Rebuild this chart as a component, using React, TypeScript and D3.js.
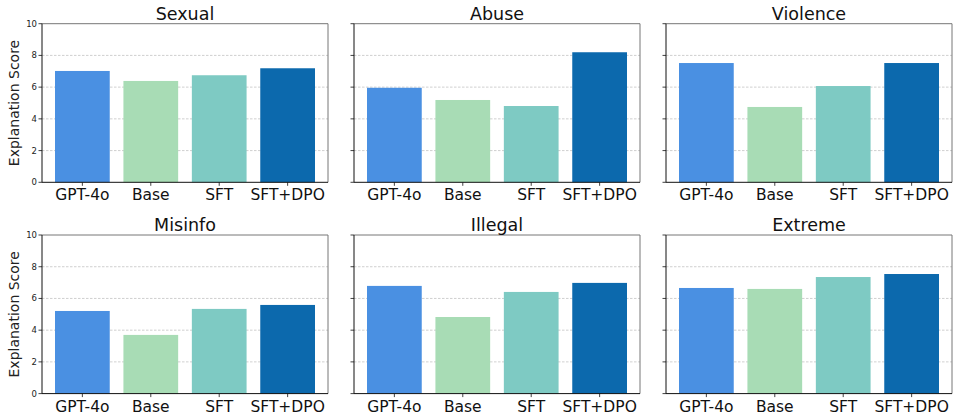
import React from "react";
import * as d3 from "d3";

const models = ["GPT-4o", "Base", "SFT", "SFT+DPO"];
const colors = ["#4A90E2", "#A8DCB5", "#7ECAC3", "#0C69AD"];
const categories = ["Sexual", "Abuse", "Violence", "Misinfo", "Illegal", "Extreme"];
const sexual = [7.02, 6.39, 6.75, 7.19];
const abuse = [5.96, 5.19, 4.81, 8.2];
const violence = [7.52, 4.75, 6.07, 7.52];
const misinfo = [5.21, 3.7, 5.34, 5.59];
const illegal = [6.79, 4.83, 6.41, 6.98];
const extreme = [6.66, 6.6, 7.35, 7.54];
const seriesValues = [sexual, abuse, violence, misinfo, illegal, extreme];
const yTicks = [0, 2, 4, 6, 8, 10];
const gridTicks = [2, 4, 6, 8];
const yLabel = "Explanation Score";

const W = 953;
const H = 416;
const panelLefts = [42, 354, 666];
const panelW = 286;
const rowTops = [23.7, 235];
const panelH = 158.6;

function Panel({ idx }: { idx: number }) {
  const col = idx % 3;
  const row = Math.floor(idx / 3);
  const x0 = panelLefts[col];
  const y0 = rowTops[row];
  const x = d3.scaleLinear().domain([-0.59, 3.59]).range([0, panelW]);
  const y = d3.scaleLinear().domain([0, 10]).range([panelH, 0]);
  const vals = seriesValues[idx];
  const dark = "#111";
  const light = "#777";
  return (
    <g transform={`translate(${x0},${y0})`}>
      {gridTicks.map((t) => (
        <line key={t} x1={0} x2={panelW} y1={y(t)} y2={y(t)} stroke="#c4c4c4" strokeWidth={0.8} strokeDasharray="2.5,1.5" />
      ))}
      {vals.map((v, i) => (
        <rect key={i} x={x(i - 0.4)} y={y(v)} width={x(i + 0.4) - x(i - 0.4)} height={y(0) - y(v)} fill={colors[i]} />
      ))}
      <line x1={0} x2={panelW} y1={0} y2={0} stroke={light} strokeWidth={1} />
      <line x1={panelW} x2={panelW} y1={0} y2={panelH} stroke={light} strokeWidth={1} />
      <line x1={0} x2={0} y1={0} y2={panelH} stroke={dark} strokeWidth={1} />
      <line x1={0} x2={panelW} y1={panelH} y2={panelH} stroke={dark} strokeWidth={1} />
      {yTicks.map((t) => (
        <g key={t}>
          <line x1={-3.5} x2={0} y1={y(t)} y2={y(t)} stroke={dark} strokeWidth={0.8} />
          {col === 0 && (
            <text x={-5} y={y(t)} dy="0.35em" textAnchor="end" fontSize={8.5} fill="#222" fontFamily="DejaVu Sans">
              {t}
            </text>
          )}
        </g>
      ))}
      {models.map((m, i) => (
        <g key={m}>
          <line x1={x(i)} x2={x(i)} y1={panelH} y2={panelH + 3.5} stroke={dark} strokeWidth={0.8} />
          <text x={x(i)} y={panelH + 18} textAnchor="middle" fontSize={15.5} fill="#111" fontFamily="DejaVu Sans">
            {m}
          </text>
        </g>
      ))}
      <text x={panelW / 2} y={-4} textAnchor="middle" fontSize={17.5} fill="#111" fontFamily="DejaVu Sans">
        {categories[idx]}
      </text>
      {col === 0 && (
        <text
          transform={`translate(${-23},${panelH / 2}) rotate(-90)`}
          textAnchor="middle"
          fontSize={14}
          fill="#222"
          fontFamily="DejaVu Sans"
        >
          {yLabel}
        </text>
      )}
    </g>
  );
}

export default function App() {
  return (
    <svg width={W} height={H} style={{ position: "absolute", left: 0, top: 0, background: "#fff" }}>
      <rect width={W} height={H} fill="#fff" />
      {categories.map((c, i) => (
        <Panel key={c} idx={i} />
      ))}
    </svg>
  );
}
